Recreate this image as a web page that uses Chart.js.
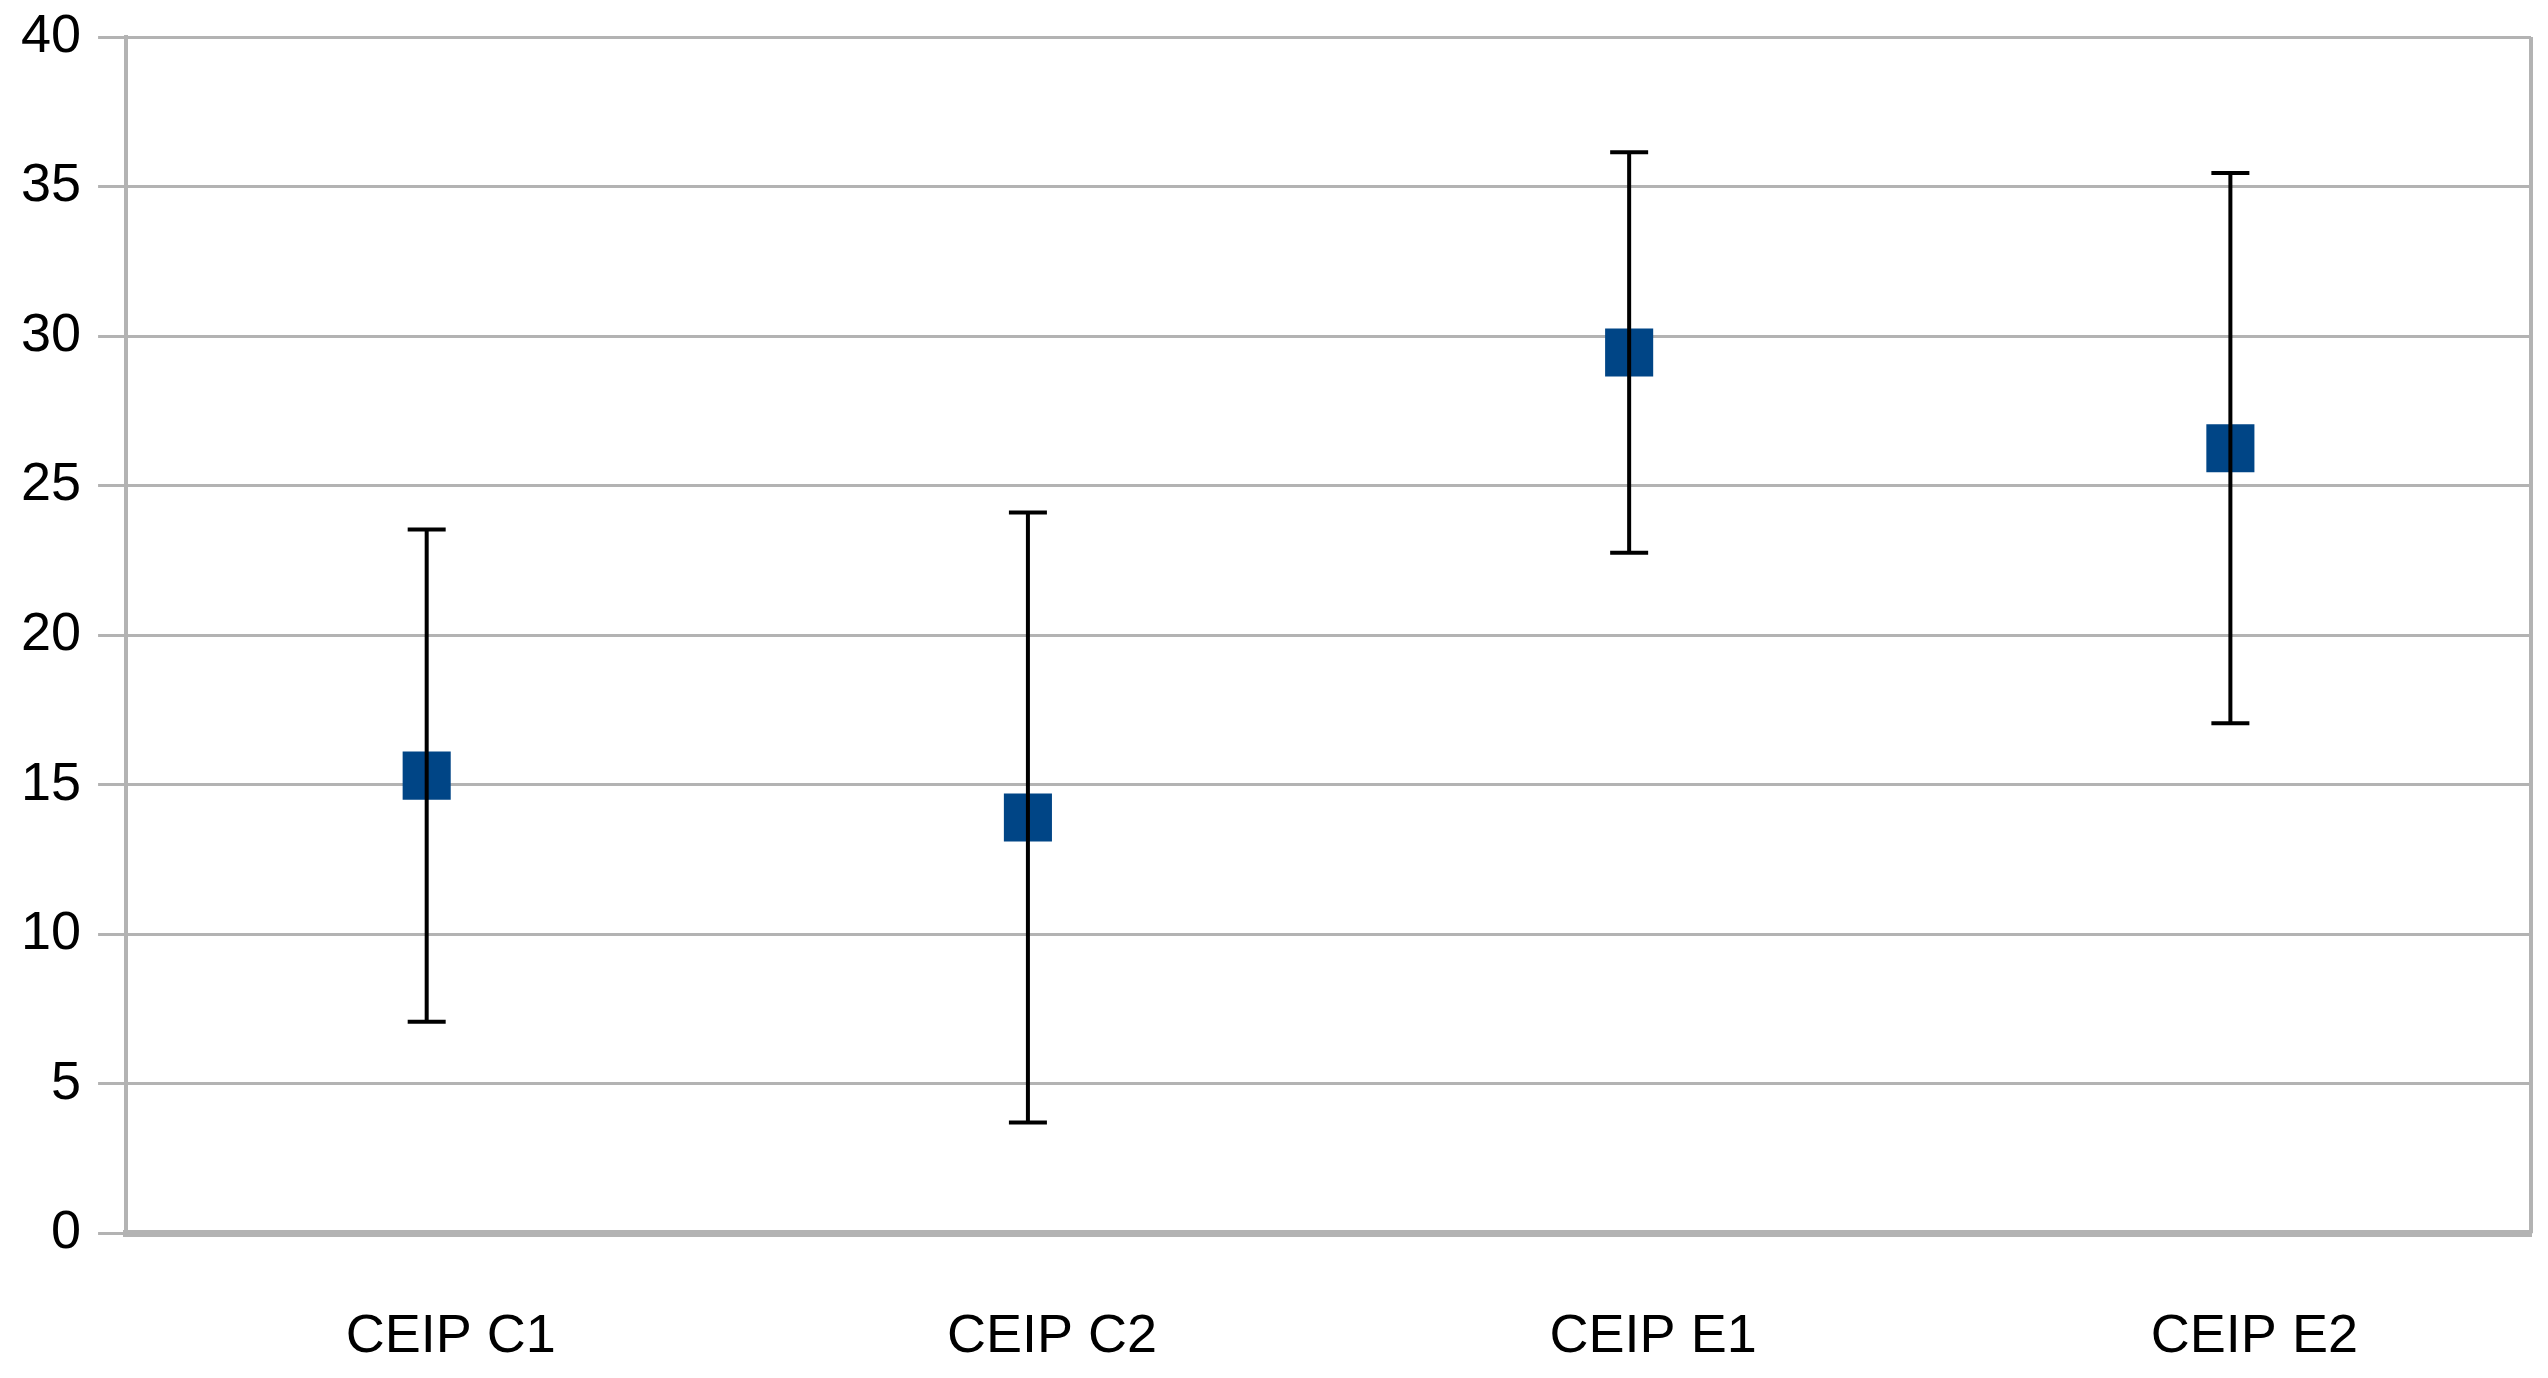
<!DOCTYPE html>
<html>
<head>
<meta charset="utf-8">
<title>CEIP</title>
<script src="https://cdn.jsdelivr.net/npm/chart.js@4.4.1/dist/chart.umd.min.js"></script>
<style>
  html, body { margin: 0; padding: 0; background: #ffffff; overflow: hidden; }
  #wrap { width: 2548px; height: 1378px; }
  canvas { display: block; }
</style>
</head>
<body>
<div id="wrap"><canvas id="myChart" width="2548" height="1378"></canvas></div>
<script>
  const categories = ["CEIP C1", "CEIP C2", "CEIP E1", "CEIP E2"];
  const means = [15.3, 13.9, 29.45, 26.25];
  const errors = [8.23, 10.2, 6.7, 9.2];
  const yTickLabels = [0, 5, 10, 15, 20, 25, 30, 35, 40];

  const gridGray = "#b3b3b3";
  const fontFamily = "'Liberation Sans', Arial, sans-serif";

  // error bars drawn on top of the markers, as in the original
  const errorBars = {
    id: "errorBars",
    afterDatasetsDraw(chart) {
      const ctx = chart.ctx;
      const x = chart.scales.x;
      const y = chart.scales.y;
      ctx.save();
      ctx.strokeStyle = "#000000";
      ctx.lineWidth = 4;
      means.forEach((m, i) => {
        const px = x.getPixelForValue(i);
        const top = y.getPixelForValue(m + errors[i]);
        const bottom = y.getPixelForValue(m - errors[i]);
        ctx.beginPath();
        ctx.moveTo(px, top);
        ctx.lineTo(px, bottom);
        ctx.moveTo(px - 19, top);
        ctx.lineTo(px + 19, top);
        ctx.moveTo(px - 19, bottom);
        ctx.lineTo(px + 19, bottom);
        ctx.stroke();
      });
      ctx.restore();
    },
  };

  // right edge of the plot frame
  const frameRight = {
    id: "frameRight",
    beforeDatasetsDraw(chart) {
      const { ctx, chartArea } = chart;
      ctx.save();
      ctx.strokeStyle = gridGray;
      ctx.lineWidth = 4;
      ctx.beginPath();
      ctx.moveTo(chartArea.right, chartArea.top);
      ctx.lineTo(chartArea.right, chartArea.bottom);
      ctx.stroke();
      ctx.restore();
    },
  };

  new Chart(document.getElementById("myChart"), {
    type: "line",
    data: {
      labels: categories,
      datasets: [
        {
          label: "Media",
          data: means,
          showLine: false,
          pointStyle: "rect",
          pointRadius: 34,
          pointHoverRadius: 34,
          pointBorderWidth: 0,
          backgroundColor: "#004586",
          borderColor: "#004586",
        },
      ],
    },
    options: {
      responsive: false,
      animation: false,
      devicePixelRatio: 1,
      layout: {
        autoPadding: false,
        padding: { left: 4, right: 17, top: 37, bottom: -64 },
      },
      plugins: {
        legend: { display: false },
        tooltip: { enabled: false },
      },
      scales: {
        x: {
          type: "category",
          offset: true,
          grid: { display: false, drawTicks: false },
          border: { display: true, color: gridGray, width: 7 },
          ticks: {
            color: "#000000",
            padding: 72,
            labelOffset: 24,
            font: { family: fontFamily, size: 54 },
          },
          afterFit: (scale) => {
            scale.paddingLeft = 0;
            scale.paddingRight = 0;
          },
        },
        y: {
          min: yTickLabels[0],
          max: yTickLabels[yTickLabels.length - 1],
          ticks: {
            stepSize: yTickLabels[1] - yTickLabels[0],
            color: "#000000",
            padding: 17,
            font: { family: fontFamily, size: 54 },
          },
          grid: { color: gridGray, lineWidth: 3, tickLength: 28, tickColor: gridGray },
          border: { display: true, color: gridGray, width: 4 },
          afterFit: (scale) => {
            scale.paddingTop = 0;
            scale.paddingBottom = 0;
          },
        },
      },
    },
    plugins: [frameRight, errorBars],
  });
</script>
</body>
</html>
